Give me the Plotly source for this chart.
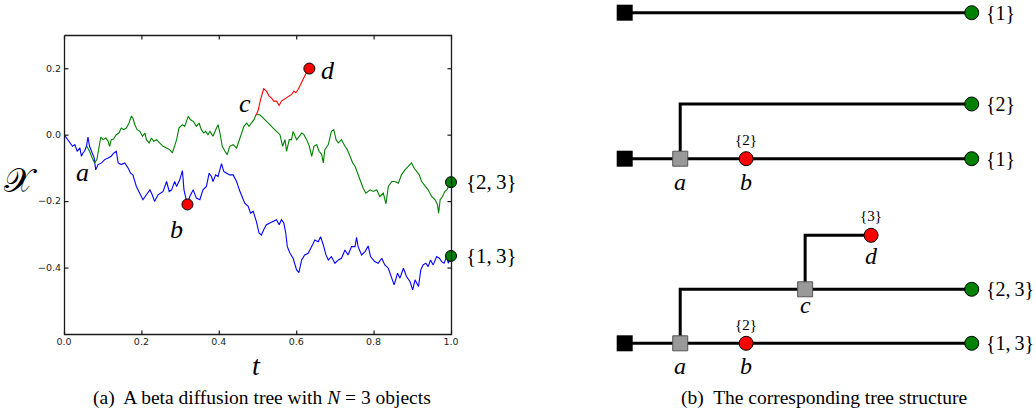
import plotly.graph_objects as go

# ---------------- data: left panel (beta diffusion paths) ----------------
blue_t = [0.000, 0.006, 0.015, 0.022, 0.028, 0.034, 0.041, 0.045, 0.049, 0.053, 0.058, 0.062, 0.066, 0.073,
          0.078, 0.082, 0.088, 0.097, 0.105, 0.114, 0.122, 0.127, 0.135, 0.140, 0.148, 0.157, 0.166, 0.172,
          0.178, 0.187, 0.196, 0.204, 0.213, 0.222, 0.228, 0.234, 0.243, 0.256, 0.265, 0.272, 0.278, 0.286,
          0.291, 0.299, 0.306, 0.310, 0.316, 0.319,
          0.325, 0.334, 0.342, 0.351, 0.359, 0.368, 0.375, 0.381, 0.385, 0.392, 0.398, 0.407, 0.413, 0.420,
          0.428, 0.437, 0.446, 0.453, 0.459, 0.467, 0.476, 0.482, 0.489, 0.497, 0.504, 0.510, 0.516, 0.523,
          0.532, 0.541, 0.549, 0.556, 0.562, 0.568, 0.573, 0.577, 0.584, 0.592, 0.601, 0.607, 0.614, 0.622,
          0.631, 0.640, 0.648, 0.657, 0.663, 0.670, 0.677, 0.683, 0.691, 0.700, 0.709, 0.717, 0.726, 0.734,
          0.743, 0.752, 0.756, 0.760, 0.769, 0.778, 0.786, 0.792, 0.803, 0.812, 0.821, 0.829, 0.838, 0.844,
          0.853, 0.862, 0.868, 0.877, 0.885, 0.894, 0.901, 0.907, 0.916, 0.922, 0.928, 0.935, 0.941, 0.947,
          0.954, 0.963, 0.970, 0.976, 0.982, 0.989, 0.993, 1.000]
blue_x = [0.000, -0.010, -0.025, -0.035, -0.030, -0.050, -0.040, -0.065, -0.055, -0.050, -0.035, -0.007,
          -0.035, -0.055, -0.070, -0.106, -0.090, -0.085, -0.075, -0.070, -0.065, -0.057, -0.050, -0.085,
          -0.090, -0.085, -0.101, -0.116, -0.121, -0.156, -0.176, -0.196, -0.181, -0.166, -0.181, -0.201,
          -0.181, -0.171, -0.141, -0.171, -0.166, -0.141, -0.156, -0.136, -0.108, -0.166, -0.196, -0.210,
          -0.186, -0.166, -0.191, -0.196, -0.166, -0.156, -0.116, -0.126, -0.141, -0.121, -0.126, -0.087,
          -0.111, -0.116, -0.121, -0.121, -0.141, -0.166, -0.181, -0.206, -0.216, -0.236, -0.231, -0.261,
          -0.296, -0.302, -0.286, -0.271, -0.266, -0.261, -0.256, -0.271, -0.256, -0.266, -0.296, -0.337,
          -0.357, -0.372, -0.407, -0.415, -0.377, -0.362, -0.357, -0.337, -0.317, -0.322, -0.307, -0.332,
          -0.362, -0.377, -0.367, -0.387, -0.377, -0.372, -0.347, -0.362, -0.337, -0.337, -0.309, -0.337,
          -0.362, -0.352, -0.335, -0.367, -0.382, -0.387, -0.372, -0.392, -0.402, -0.422, -0.452, -0.417,
          -0.432, -0.402, -0.427, -0.442, -0.467, -0.437, -0.457, -0.407, -0.392, -0.387, -0.397, -0.377,
          -0.392, -0.367, -0.372, -0.382, -0.387, -0.367, -0.387, -0.365]

green_t = [0.059, 0.066, 0.073, 0.079, 0.085, 0.091, 0.095, 0.101, 0.108, 0.114, 0.118, 0.122, 0.128, 0.135,
           0.142, 0.148, 0.154, 0.161, 0.168, 0.174, 0.178, 0.183, 0.189, 0.196, 0.203, 0.209, 0.213, 0.220,
           0.226, 0.232, 0.239, 0.247, 0.256, 0.265, 0.273, 0.280, 0.286, 0.291, 0.297, 0.306, 0.312, 0.321,
           0.327, 0.334, 0.342, 0.349, 0.355, 0.361, 0.366, 0.372, 0.377, 0.385, 0.392, 0.398, 0.403, 0.409,
           0.416, 0.422, 0.428, 0.437, 0.446, 0.453, 0.459, 0.465, 0.472, 0.478, 0.484, 0.491, 0.496, 0.506,
           0.515, 0.523, 0.532, 0.541, 0.549, 0.558, 0.565, 0.571, 0.575, 0.582, 0.588, 0.592, 0.601, 0.608,
           0.614, 0.620, 0.627, 0.634, 0.640, 0.646, 0.653, 0.659, 0.666, 0.670, 0.674, 0.683, 0.691, 0.697,
           0.703, 0.709, 0.717, 0.726, 0.732, 0.739, 0.746, 0.752, 0.760, 0.766, 0.773, 0.780, 0.791, 0.799,
           0.808, 0.816, 0.825, 0.832, 0.838, 0.847, 0.855, 0.864, 0.872, 0.881, 0.890, 0.898, 0.905, 0.911,
           0.918, 0.924, 0.933, 0.941, 0.950, 0.959, 0.965, 0.968, 0.972, 0.978, 0.984, 0.989, 1.000]
green_x = [-0.035, -0.050, -0.070, -0.085, -0.075, -0.035, -0.007, -0.015, -0.010, -0.020, -0.035, -0.015,
           -0.013, 0.000, 0.005, 0.020, 0.015, 0.020, 0.035, 0.055, 0.050, 0.030, 0.015, 0.010, -0.005, 0.005,
           -0.015, -0.025, -0.010, -0.020, -0.015, -0.025, -0.035, -0.040, -0.045, -0.055, -0.035, -0.015,
           0.020, 0.030, 0.025, 0.055, 0.045, 0.040, 0.025, 0.035, 0.015, 0.005, 0.010, 0.000, 0.010, -0.005,
           0.015, 0.030, 0.005, -0.035, -0.050, -0.060, -0.035, -0.030, -0.040, -0.015, 0.000, 0.025, 0.035,
           0.025, 0.035, 0.045, 0.060, 0.060, 0.050, 0.040, 0.030, 0.020, 0.010, 0.000, -0.035, -0.015,
           -0.050, -0.015, -0.015, 0.010, -0.015, -0.005, 0.005, 0.000, -0.015, -0.035, -0.065, -0.035,
           -0.030, -0.050, -0.060, -0.085, -0.045, -0.030, 0.010, 0.015, -0.015, -0.025, -0.015, -0.035,
           -0.045, -0.065, -0.085, -0.095, -0.121, -0.141, -0.161, -0.176, -0.166, -0.171, -0.166, -0.186,
           -0.176, -0.208, -0.156, -0.141, -0.141, -0.146, -0.121, -0.106, -0.095, -0.085, -0.101, -0.111,
           -0.121, -0.141, -0.156, -0.166, -0.186, -0.196, -0.211, -0.236, -0.196, -0.186, -0.171, -0.166,
           -0.143]

red_t = [0.497, 0.502, 0.508, 0.513, 0.516, 0.523, 0.530, 0.536, 0.542, 0.549, 0.556, 0.562, 0.568, 0.575,
         0.582, 0.588, 0.594, 0.599, 0.605, 0.611, 0.616, 0.622, 0.628, 0.634]
red_x = [0.060, 0.075, 0.106, 0.128, 0.138, 0.131, 0.116, 0.111, 0.101, 0.101, 0.088, 0.101, 0.106, 0.111,
         0.116, 0.121, 0.131, 0.126, 0.136, 0.151, 0.166, 0.181, 0.191, 0.199]

b_index = 47  # point b lies on the blue path
x_ticks = [0.0, 0.2, 0.4, 0.6, 0.8, 1.0]
y_ticks = [-0.4, -0.2, 0.0, 0.2]
t_range = [0.0, 1.0]
x_range = [-0.6, 0.3]

# ---------------- data: right panel (tree structure) ----------------
root_t, leaf_t = 0.0, 1.0
a_t, b_t, c_t, d_t = 0.16, 0.35, 0.52, 0.71
# row levels of the three stacked trees (top to bottom)
row_p1 = 12.7
row_p2_top, row_p2_main = 104.0, 158.7
row_p3_d, row_p3_mid, row_p3_main = 235.3, 289.3, 343.3

W, H = 1036, 418
AX_L, AX_R, AX_T, AX_B = 64, 451, 35, 334  # left panel frame (px)
SERIF = "Liberation Serif, Times New Roman, serif"
TS = "\u2009"  # thin space used in set labels
fig = go.Figure()

# left panel paths
fig.add_trace(go.Scatter(x=blue_t, y=blue_x, mode="lines", line=dict(color="#0000ff", width=1.1),
                         xaxis="x", yaxis="y", hoverinfo="skip"))
fig.add_trace(go.Scatter(x=green_t, y=green_x, mode="lines", line=dict(color="#008000", width=1.1),
                         xaxis="x", yaxis="y", hoverinfo="skip"))
fig.add_trace(go.Scatter(x=red_t, y=red_x, mode="lines", line=dict(color="#ff0000", width=1.1),
                         xaxis="x", yaxis="y", hoverinfo="skip"))

# right panel: tree lines
def tline(xs, ys):
    fig.add_trace(go.Scatter(x=xs, y=ys, mode="lines", line=dict(color="black", width=3),
                             xaxis="x2", yaxis="y2", hoverinfo="skip", cliponaxis=False))

tline([root_t, leaf_t], [row_p1, row_p1])
tline([root_t, leaf_t], [row_p2_main, row_p2_main])
tline([a_t, a_t, leaf_t], [row_p2_main, row_p2_top, row_p2_top])
tline([root_t, leaf_t], [row_p3_main, row_p3_main])
tline([a_t, a_t, leaf_t], [row_p3_main, row_p3_mid, row_p3_mid])
tline([c_t, c_t, d_t], [row_p3_mid, row_p3_d, row_p3_d])

def tmark(xs, ys, symbol, color, size, lc, lw):
    fig.add_trace(go.Scatter(x=xs, y=ys, mode="markers", xaxis="x2", yaxis="y2", cliponaxis=False,
                             marker=dict(symbol=symbol, color=color, size=size, line=dict(color=lc, width=lw))))

tmark([root_t] * 3, [row_p1, row_p2_main, row_p3_main], "square", "black", 16, "black", 0)
tmark([a_t, a_t, c_t], [row_p2_main, row_p3_main, row_p3_mid], "square", "#999999", 15, "#555555", 1)
tmark([b_t, b_t, d_t], [row_p2_main, row_p3_main, row_p3_d], "circle", "#ff0000", 14, "black", 1)
tmark([leaf_t] * 5, [row_p1, row_p2_top, row_p2_main, row_p3_mid, row_p3_main], "circle", "#008000", 14, "black", 1)

# frame + inward ticks of the left panel, drawn on a full-page overlay axis (pixel units)
def tx(t):
    return AX_L + (t - t_range[0]) / (t_range[1] - t_range[0]) * (AX_R - AX_L)

def ty(v):
    return AX_B - (v - x_range[0]) / (x_range[1] - x_range[0]) * (AX_B - AX_T)

fx = [AX_L + 0.5, AX_R + 0.5, AX_R + 0.5, AX_L + 0.5, AX_L + 0.5]
fy = [AX_T + 0.5, AX_T + 0.5, AX_B + 0.5, AX_B + 0.5, AX_T + 0.5]
fig.add_trace(go.Scatter(x=fx, y=fy, mode="lines", line=dict(color="#1a1a1a", width=1.3),
                         xaxis="x3", yaxis="y3", hoverinfo="skip"))
kx, ky = [], []
for tv in x_ticks:
    px_ = tx(tv) + 0.5
    kx += [px_, px_, None, px_, px_, None]
    ky += [AX_B + 0.5, AX_B - 3.5, None, AX_T + 0.5, AX_T + 4.5, None]
for tv in y_ticks:
    py_ = ty(tv) + 0.5
    kx += [AX_L + 0.5, AX_L + 4.5, None, AX_R + 0.5, AX_R - 3.5, None]
    ky += [py_, py_, None, py_, py_, None]
fig.add_trace(go.Scatter(x=kx, y=ky, mode="lines", line=dict(color="#1a1a1a", width=1.2),
                         xaxis="x3", yaxis="y3", hoverinfo="skip", connectgaps=False))

# left panel markers on top
fig.add_trace(go.Scatter(x=[blue_t[b_index], red_t[-1]], y=[blue_x[b_index], red_x[-1]], mode="markers",
                         marker=dict(color="#ff0000", size=11, line=dict(color="black", width=1)),
                         xaxis="x", yaxis="y", cliponaxis=False))
fig.add_trace(go.Scatter(x=[green_t[-1], blue_t[-1]], y=[green_x[-1], blue_x[-1]], mode="markers",
                         marker=dict(color="#008000", size=11, line=dict(color="black", width=1)),
                         xaxis="x", yaxis="y", cliponaxis=False))

ann = []
def A(text, x, y, size, xref="paper", yref="paper", xanchor="center", xshift=0, yshift=0, family=SERIF):
    ann.append(dict(text=text, x=x, y=y, xref=xref, yref=yref, xanchor=xanchor, yanchor="middle",
                    showarrow=False, xshift=xshift, yshift=yshift, font=dict(family=family, size=size, color="black")))

# left panel labels
A("𝒳", 20 / W, 1 - 180 / H, 34)
A("<i>t</i>", 256 / W, 1 - 365 / H, 28)
A("<i>a</i>", 0.049, -0.115, 26, xref="x", yref="y")
A("<i>b</i>", 0.291, -0.284, 26, xref="x", yref="y")
A("<i>c</i>", 0.467, 0.093, 26, xref="x", yref="y")
A("<i>d</i>", 0.683, 0.192, 26, xref="x", yref="y")
A("{2," + TS + "3}", 1.0, green_x[-1], 21, xref="x", yref="y", xanchor="left", xshift=13)
A("{1," + TS + "3}", 1.0, blue_x[-1], 21, xref="x", yref="y", xanchor="left", xshift=13)
A("(a)  A beta diffusion tree with <i>N</i> = 3 objects", 262 / W, 1 - 398 / H, 19.5)

# right panel labels
for lab, yy in [("{1}", row_p1), ("{2}", row_p2_top), ("{1}", row_p2_main),
                ("{2," + TS + "3}", row_p3_mid), ("{1," + TS + "3}", row_p3_main)]:
    A(lab, leaf_t, yy, 20, xref="x2", yref="y2", xanchor="left", xshift=12)
A("{2}", b_t, row_p2_main, 15, xref="x2", yref="y2", yshift=19)
A("{2}", b_t, row_p3_main, 15, xref="x2", yref="y2", yshift=18)
A("{3}", d_t, row_p3_d, 15, xref="x2", yref="y2", yshift=19)
A("<i>a</i>", a_t, row_p2_main, 24, xref="x2", yref="y2", yshift=-23)
A("<i>b</i>", b_t, row_p2_main, 24, xref="x2", yref="y2", yshift=-23)
A("<i>a</i>", a_t, row_p3_main, 24, xref="x2", yref="y2", yshift=-23)
A("<i>b</i>", b_t, row_p3_main, 24, xref="x2", yref="y2", yshift=-23)
A("<i>c</i>", c_t, row_p3_mid, 24, xref="x2", yref="y2", yshift=-16)
A("<i>d</i>", d_t, row_p3_d, 24, xref="x2", yref="y2", yshift=-21)
A("(b)  The corresponding tree structure", 824 / W, 1 - 398 / H, 19.5)

tick_font = dict(family="DejaVu Sans, sans-serif", size=9.5, color="#222222")
axis_common = dict(ticks="", showline=False, showgrid=False, zeroline=False,
                   tickfont=tick_font, automargin=False, tickformat=".1f")
fig.update_layout(
    template="none",
    width=W, height=H, margin=dict(l=0, r=0, t=0, b=0, pad=0, autoexpand=False),
    paper_bgcolor="white", plot_bgcolor="rgba(0,0,0,0)", showlegend=False,
    xaxis=dict(domain=[AX_L / W, AX_R / W], range=t_range, tickvals=x_ticks, anchor="y",
               ticklabelstandoff=0, **axis_common),
    yaxis=dict(domain=[1 - AX_B / H, 1 - AX_T / H], range=x_range, tickvals=y_ticks, anchor="x",
               ticklabelstandoff=2, **axis_common),
    xaxis2=dict(domain=[0.58, 1.0], range=[(0.58 * W - 624.7) / 347, (W - 624.7) / 347],
                visible=False, anchor="y2", automargin=False),
    yaxis2=dict(domain=[0, 1], range=[H, 0], visible=False, anchor="x2", automargin=False),
    xaxis3=dict(domain=[0, 1], range=[0, W], visible=False, anchor="y3", automargin=False),
    yaxis3=dict(domain=[0, 1], range=[H, 0], visible=False, anchor="x3", automargin=False),
    annotations=ann,
)
fig.write_html("out.html", config={"displayModeBar": False},
               post_script="document.body.style.margin='0';document.body.style.overflow='hidden';")
